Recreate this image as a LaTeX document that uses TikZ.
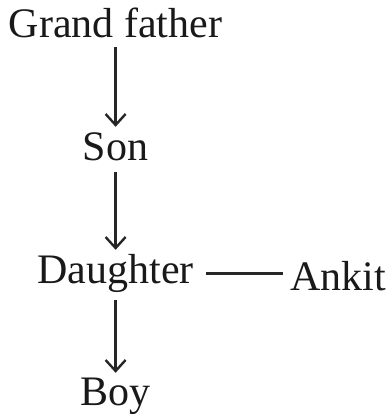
\documentclass[tikz,border=0pt]{standalone}
\usepackage{fontspec}
\setmainfont{Liberation Serif}
\usetikzlibrary{arrows.meta}
\begin{document}
\begin{tikzpicture}[x=1pt,y=1pt,
  lbl/.style={inner sep=0pt,text height=28pt,text depth=9pt,font=\fontsize{42}{48}\selectfont,text=black!90},
  conn/.style={line width=2.6pt,draw=black!85},
  arr/.style={line width=2.4pt,draw=black!85,-{Straight Barb[length=11pt,width=20pt]}}]
\useasboundingbox (0,0) rectangle (390,-418);
\node[lbl,anchor=base] (gf) at (115.6,-37) {Grand father};
\node[lbl,anchor=base] (son) at (115.6,-160) {Son};
\node[lbl,anchor=base] (dau) at (115.6,-283) {Daughter};
\node[lbl,anchor=base west] (ank) at (290,-290) {Ankit};
\node[lbl,anchor=base] (boy) at (115.6,-405) {Boy};
\draw[arr,shorten <=1pt,shorten >=5pt] (gf.south) -- (son.north);
\draw[arr,shorten <=3pt,shorten >=5pt] (son.south) -- (dau.north);
\draw[arr,shorten <=8pt,shorten >=4pt] (dau.south) -- (boy.north);
\draw[conn,shorten <=12pt,shorten >=7pt] (dau.east) -- (dau.east -| ank.west);
\end{tikzpicture}
\end{document}
